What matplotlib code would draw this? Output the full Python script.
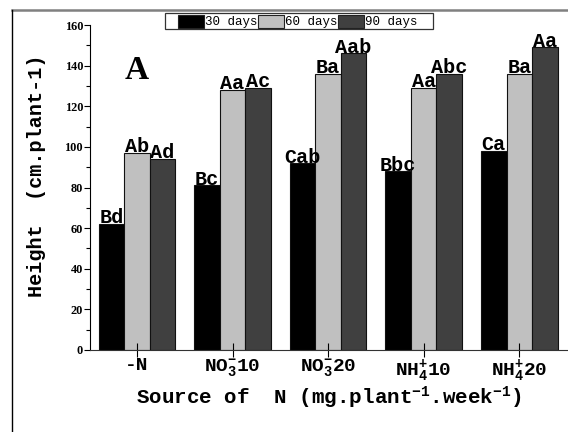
import numpy as np
import matplotlib
matplotlib.use("Agg")
import matplotlib.pyplot as plt
from matplotlib.lines import Line2D
from matplotlib.patches import Rectangle

plt.rcParams['mathtext.fontset'] = 'custom'
plt.rcParams['mathtext.rm'] = 'Liberation Mono:bold'
plt.rcParams['mathtext.it'] = 'Liberation Mono:bold'
plt.rcParams['mathtext.bf'] = 'Liberation Mono:bold'

# data
categories = ['-N', r'NO$_3^{-}$10', r'NO$_3^{-}$20', r'NH$_4^{+}$10', r'NH$_4^{+}$20']
series = ['30 days', '60 days', '90 days']
h30 = [62, 81, 92, 88, 98]
h60 = [97, 128, 136, 129, 136]
h90 = [94, 129, 146, 136, 149]
let30 = ['Bd', 'Bc', 'Cab', 'Bbc', 'Ca']
let60 = ['Ab', 'Aa', 'Ba', 'Aa', 'Ba']
let90 = ['Ad', 'Ac', 'Aab', 'Abc', 'Aa']

colors = ['#000000', '#c0c0c0', '#404040']
mono = 'Liberation Mono'
serif = 'Liberation Serif'

W, H = 568, 432
fig = plt.figure(figsize=(W / 100, H / 100), dpi=100)
ax = fig.add_axes([90 / W, 1 - 350 / H, 1 - 90 / W, (350 - 25) / H])

x = np.arange(len(categories))
w = 0.267
for i, (vals, labs) in enumerate(zip([h30, h60, h90], [let30, let60, let90])):
    pos = x + (i - 1) * w
    ax.bar(pos, vals, width=w, color=colors[i], edgecolor='#111111', linewidth=0.8)
    for px, v, t in zip(pos, vals, labs):
        ax.text(px, v + 0.3, t, ha='center', va='baseline', fontsize=14.5,
                fontweight='bold', family=mono)

ax.set_xlim(-0.492, 4.51)
ax.set_ylim(0, 160)
ax.set_yticks(np.arange(0, 161, 20))
ax.set_yticks(np.arange(10, 160, 20), minor=True)
for lab in ax.get_yticklabels():
    lab.set_fontfamily(serif)
    lab.set_fontweight('bold')
    lab.set_fontsize(8.8)
ax.tick_params(axis='y', which='major', direction='out', length=4.5, width=0.8, pad=0.5)
ax.tick_params(axis='y', which='minor', direction='out', length=3, width=0.8)
ax.set_xticks(x)
ax.set_xticklabels(categories, family=mono, fontweight='bold', fontsize=14)
ax.tick_params(axis='x', direction='inout', length=10, width=0.8, pad=0)

ax.spines['top'].set_visible(False)
ax.spines['right'].set_visible(False)
ax.spines['bottom'].set_color('#333333')

ax.set_xlabel('Source of  N (mg.plant$^{-1}$.week$^{-1}$)', family=mono,
              fontweight='bold', fontsize=15, labelpad=0)
fig.text(37 / W, 1 - 176 / H, 'Height  (cm.plant-1)', rotation=90,
         ha='center', va='center', family=mono, fontweight='bold', fontsize=14.5)

ax.text(-0.128, 133.5, 'A', family=serif, fontweight='bold', fontsize=24,
        ha='left', va='baseline')

# legend drawn as a single row box along the top
fig.add_artist(Rectangle((165 / W, 1 - 29 / H), (433 - 165) / W, 16 / H,
                         transform=fig.transFigure, facecolor='white',
                         edgecolor='#333333', linewidth=0.9))
px0 = 178
for c, name in zip(colors, series):
    fig.add_artist(Rectangle((px0 / W, 1 - 28 / H), 26 / W, 13 / H,
                             transform=fig.transFigure, facecolor=c,
                             edgecolor='#222222', linewidth=0.8))
    fig.text((px0 + 27) / W, 1 - 21.5 / H, name, family=mono, fontsize=9,
             ha='left', va='center')
    px0 += 80

# outer frame of the figure panel
fig.add_artist(Line2D([12 / W, 1.0], [1 - 10 / H, 1 - 10 / H], transform=fig.transFigure,
                      color='#808080', linewidth=1.8))
fig.add_artist(Line2D([12 / W, 12 / W], [0, 1 - 10 / H], transform=fig.transFigure,
                      color='#000000', linewidth=1.0))

fig.savefig('out.png', dpi=100)
